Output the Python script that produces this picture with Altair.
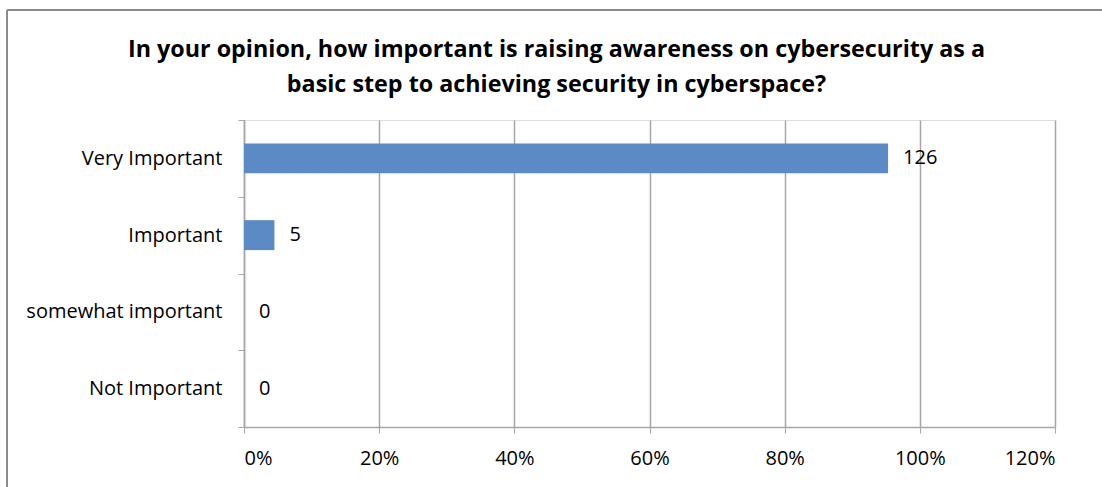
import altair as alt
import pandas as pd

categories = ["Very Important", "Important", "somewhat important", "Not Important"]
counts = [126, 5, 0, 0]
shares = [0.953, 0.045, 0.0, 0.0]
x_ticks = [0, 0.2, 0.4, 0.6, 0.8, 1.0, 1.2]

df = pd.DataFrame({"category": categories, "count": counts, "share": shares})

FONT = "Open Sans"
GRID = "#a6a6a6"
FS = 20

y_enc = alt.Y(
    "category:N",
    sort=categories,
    title=None,
    scale=alt.Scale(paddingInner=0, paddingOuter=0),
    axis=alt.Axis(
        tickBand="extent", grid=False, domainColor=GRID, tickColor=GRID,
        tickSize=6, labelPadding=16, labelFontSize=FS, labelColor="#000000",
        labelFont=FONT, domainWidth=1.5, labelLimit=400,
    ),
)
x_enc = alt.X(
    "share:Q",
    title=None,
    scale=alt.Scale(domain=[0, 1.2], nice=False),
    axis=alt.Axis(
        values=x_ticks, format=".0%", grid=True, gridColor=GRID, gridWidth=1.5,
        domainColor=GRID, tickColor=GRID, tickSize=6, labelPadding=15,
        labelFontSize=FS, labelColor="#000000", labelFont=FONT, domainWidth=1.5,
    ),
)

base = alt.Chart(df)
bars = base.mark_bar(
    color="#5B8AC5", height=alt.RelativeBandSize(0.39),
).encode(y=y_enc, x=x_enc)
labels = base.mark_text(align="left", baseline="middle", dx=15, fontSize=FS, font=FONT, color="#000000").encode(
    y=alt.Y("category:N", sort=categories), x=alt.X("share:Q"), text="count:Q"
)

frame_top = alt.Chart(df).mark_rule(color="#8c8c8c", strokeWidth=2).encode(
    x=alt.value(-237), x2=alt.value(870), y=alt.value(-110)
)
frame_left = alt.Chart(df).mark_rule(color="#8c8c8c", strokeWidth=2).encode(
    x=alt.value(-237), y=alt.value(-110), y2=alt.value(380)
)

chart = alt.layer(bars, labels, frame_top, frame_left).properties(
    width=811,
    height=307,
    autosize=alt.AutoSizeParams(type="none"),
    padding={"left": 244, "top": 120, "right": 47, "bottom": 60},
    title=alt.TitleParams(
        text=["In your opinion, how important is raising awareness on cybersecurity as a",
              "basic step to achieving security in cyberspace?"],
        font=FONT, fontSize=23.3, fontWeight="bold", color="#000000",
        anchor="middle", dx=-93, offset=-88, lineHeight=35,
    ),
).configure_view(stroke=None).configure(background="#ffffff")

chart.save("out.html", embed_options={"renderer": "svg", "actions": False})
